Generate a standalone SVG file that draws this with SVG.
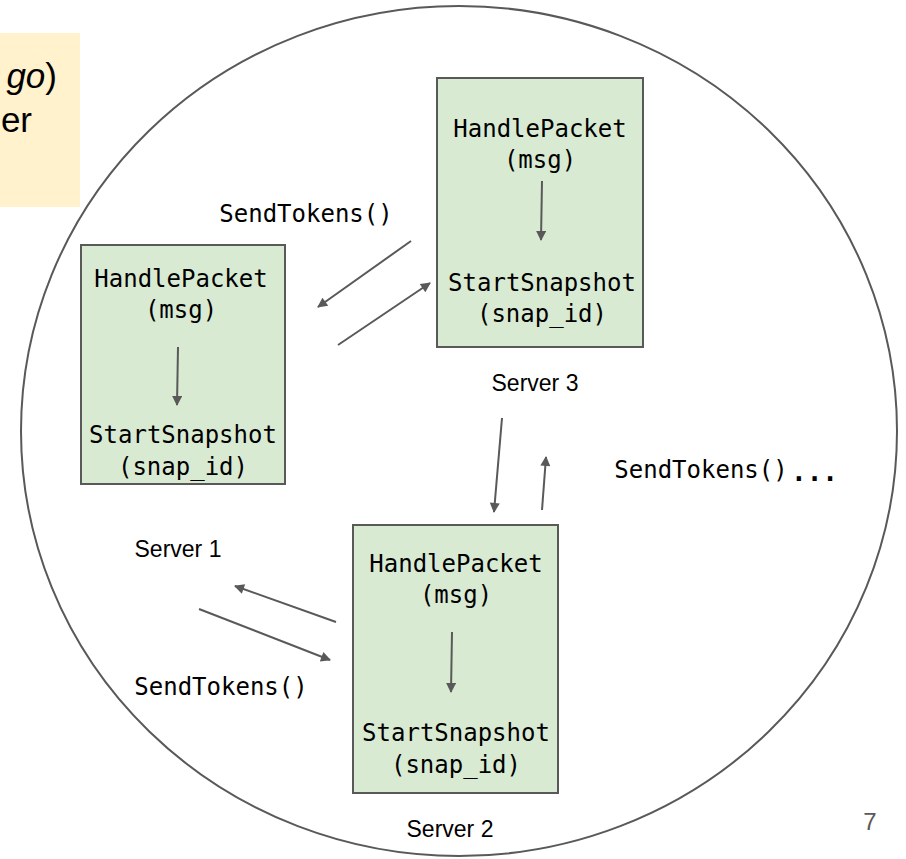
<svg xmlns="http://www.w3.org/2000/svg" width="906" height="859" viewBox="0 0 906 859">
<defs>
<marker id="ah" viewBox="0 0 10 10" refX="9" refY="5" markerWidth="6" markerHeight="5" orient="auto" markerUnits="strokeWidth">
<path d="M0,0 L10,5 L0,10 z" fill="#595959"/>
</marker>
<style>
.box{fill:#d9ead3;stroke:#595959;stroke-width:2}
.mono{font-family:"DejaVu Sans Mono","Liberation Mono",monospace;font-size:24px;fill:#000;text-anchor:middle}
.lbl{font-family:"Liberation Sans",Arial,sans-serif;font-size:23px;fill:#000;text-anchor:middle}
.cn{stroke:#595959;stroke-width:2;fill:none;marker-end:url(#ah)}
</style>
</defs>
<rect width="906" height="859" fill="#fff"/>
<g id="note">
<rect x="-2" y="33" width="82" height="174" fill="#fff2cc"/>
<text x="57" y="88" font-family="Liberation Sans,Arial,sans-serif" font-size="35" text-anchor="end"><tspan font-style="italic">go</tspan>)</text>
<text x="32" y="132" font-family="Liberation Sans,Arial,sans-serif" font-size="35" text-anchor="end">er</text>
</g>
<ellipse cx="459" cy="431" rx="438" ry="425" fill="none" stroke="#595959" stroke-width="2"/>
<g id="server1">
<rect class="box" x="81" y="245" width="204" height="239"/>
<text class="mono" x="181" y="287">HandlePacket</text>
<text class="mono" x="181" y="318">(msg)</text>
<line class="cn" x1="178" y1="347" x2="177" y2="405"/>
<text class="mono" x="183" y="443">StartSnapshot</text>
<text class="mono" x="183" y="475">(snap_id)</text>
<text class="lbl" x="178" y="557">Server 1</text>
</g>
<g id="server3">
<rect class="box" x="437" y="78" width="206" height="269"/>
<text class="mono" x="540" y="137">HandlePacket</text>
<text class="mono" x="540" y="168">(msg)</text>
<line class="cn" x1="542" y1="181" x2="541" y2="240"/>
<text class="mono" x="542" y="291">StartSnapshot</text>
<text class="mono" x="542" y="322">(snap_id)</text>
<text class="lbl" x="535" y="391">Server 3</text>
</g>
<g id="server2">
<rect class="box" x="353" y="525" width="205" height="268"/>
<text class="mono" x="456" y="572">HandlePacket</text>
<text class="mono" x="456" y="603">(msg)</text>
<line class="cn" x1="452" y1="632" x2="451" y2="692"/>
<text class="mono" x="456" y="741">StartSnapshot</text>
<text class="mono" x="456" y="773">(snap_id)</text>
<text class="lbl" x="450" y="837">Server 2</text>
</g>
<g id="connectors">
<line class="cn" x1="411" y1="241" x2="318" y2="307"/>
<line class="cn" x1="338" y1="345" x2="430" y2="283"/>
<line class="cn" x1="502" y1="418" x2="494" y2="512"/>
<line class="cn" x1="542" y1="510" x2="546" y2="457"/>
<line class="cn" x1="336" y1="622" x2="235" y2="586"/>
<line class="cn" x1="199" y1="609" x2="330" y2="660"/>
</g>
<g id="labels">
<text class="mono" x="306" y="222" font-size="23">SendTokens()</text>
<text class="mono" x="701" y="478">SendTokens()</text>
<text x="791" y="481" font-family="DejaVu Sans Mono,monospace" font-size="26" font-weight="bold">...</text>
<text class="mono" x="221" y="695">SendTokens()</text>
<text x="870" y="830" font-family="Liberation Sans,Arial,sans-serif" font-size="24" fill="#595959" text-anchor="middle">7</text>
</g>
</svg>
